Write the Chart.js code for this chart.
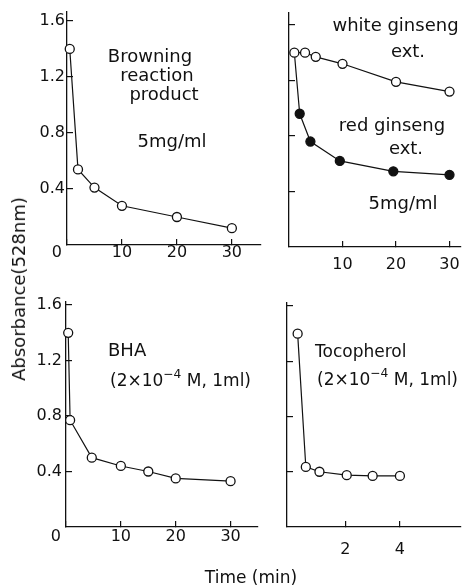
<!DOCTYPE html>
<html><head><meta charset="utf-8">
<script src="https://cdn.jsdelivr.net/npm/chart.js@4/dist/chart.umd.min.js"></script>
<style>
html,body{margin:0;padding:0;background:#fff;width:466px;height:587px;overflow:hidden;position:relative;}
canvas{position:absolute;}
.t{position:absolute;font-family:"DejaVu Sans";color:#111;white-space:nowrap;line-height:1;}
.t sup{font-size:0.72em;vertical-align:0.62em;line-height:0;}
</style></head><body>
<script>
// ---- data ----
const browningTime = [0.5, 2, 5, 10, 20, 30];
const browningAbs  = [1.40, 0.54, 0.41, 0.28, 0.20, 0.12];
const whiteTime = [1, 3, 5, 10, 20, 30];
const whiteAbs  = [1.40, 1.40, 1.37, 1.32, 1.19, 1.12];
const redTime = [1, 2, 4, 9.5, 19.5, 30];
const redAbs  = [1.40, 0.96, 0.76, 0.62, 0.545, 0.52];
const bhaTime = [0.4, 0.75, 4.7, 10, 15, 20, 30];
const bhaAbs  = [1.40, 0.77, 0.50, 0.44, 0.40, 0.35, 0.33];
const tocoTime = [0.25, 0.55, 1.05, 2.05, 3, 4];
const tocoAbs  = [1.40, 0.435, 0.40, 0.375, 0.37, 0.37];
const yTickValues = [0.4, 0.8, 1.2, 1.6];
const xTicksLong  = [0, 10, 20, 30];
const xTicksRight = [10, 20, 30];
const xTicksToco  = [2, 4];

const INK = '#111';
const pts = (xs, ys) => xs.map((x, i) => ({x, y: ys[i]}));
function series(xs, ys, filled, radii) {
  return {
    data: pts(xs, ys), borderColor: INK, borderWidth: 1.2, tension: 0, fill: false, clip: false,
    pointRadius: radii || 4.5, pointBorderWidth: 1.3, pointBorderColor: INK,
    pointBackgroundColor: filled ? INK : '#fff'
  };
}

function panel(cfg) {
  const c = document.createElement('canvas');
  c.width = cfg.w; c.height = cfg.h;
  Object.assign(c.style, {left: cfg.x + 'px', top: cfg.y + 'px', width: cfg.w + 'px', height: cfg.h + 'px'});
  document.body.appendChild(c);
  new Chart(c, {
    type: 'line',
    data: {datasets: cfg.datasets},
    options: {
      responsive: false, animation: false, devicePixelRatio: 1,
      layout: {padding: {top: cfg.padTop, right: cfg.padRight, left: 0, bottom: 0}},
      plugins: {legend: {display: false}, tooltip: {enabled: false}},
      scales: {
        x: {
          type: 'linear', min: cfg.xMin, max: cfg.xMax,
          afterBuildTicks: s => { s.ticks = cfg.xTicks.map(v => ({value: v})); },
          afterFit: s => { s.height = cfg.xH; s.paddingLeft = 0; s.paddingRight = 0; },
          grid: {drawOnChartArea: false, drawTicks: true, tickLength: -6, color: INK, lineWidth: 1.2},
          border: {display: true, color: INK, width: 1.3},
          ticks: {padding: cfg.xPad, color: INK, font: {family: 'DejaVu Sans', size: 16},
                  maxRotation: 0, autoSkip: false,
                  callback: v => v === 0 ? '0    ' : String(v)}
        },
        y: {
          type: 'linear', min: 0, max: cfg.yMax,
          afterBuildTicks: s => { s.ticks = yTickValues.map(v => ({value: v})); },
          afterFit: s => { s.width = cfg.yW; s.paddingTop = 0; s.paddingBottom = 0; },
          grid: {drawOnChartArea: false, drawTicks: true, tickLength: -6, color: INK, lineWidth: 1.2},
          border: {display: true, color: INK, width: 1.3},
          ticks: {display: cfg.yLabels, padding: cfg.yPad, color: INK, font: {family: 'DejaVu Sans', size: 16},
                  callback: v => v.toFixed(1)}
        }
      }
    }
  });
}

panel({x: 0, y: 0, w: 275, h: 280, padTop: 12, padRight: 14, yW: 67, xH: 35,
  xMin: 0, xMax: 35.3, yMax: 1.664, xTicks: xTicksLong, xPad: 4, yLabels: true, yPad: 8,
  datasets: [series(browningTime, browningAbs, false)]});

panel({x: 280, y: 0, w: 186, h: 282, padTop: 13, padRight: 0, yW: 9, xH: 35,
  xMin: 0, xMax: 32, yMax: 1.686, xTicks: xTicksRight, xPad: 14, yLabels: false, yPad: 0,
  datasets: [series(whiteTime, whiteAbs, false),
             series(redTime, redAbs, true, redTime.map((_, i) => i === 0 ? 0 : 4.5))]});

panel({x: 0, y: 285, w: 272, h: 302, padTop: 17, padRight: 14, yW: 66, xH: 60,
  xMin: 0, xMax: 35, yMax: 1.622, xTicks: xTicksLong, xPad: 6, yLabels: true, yPad: 10,
  datasets: [series(bhaTime, bhaAbs, false)]});

panel({x: 278, y: 285, w: 188, h: 302, padTop: 18, padRight: 0, yW: 9, xH: 60,
  xMin: -0.14, xMax: 6.21, yMax: 1.622, xTicks: xTicksToco, xPad: 19, yLabels: false, yPad: 0,
  datasets: [series(tocoTime, tocoAbs, false)]});

// ---- text annotations ----
function note(html, x, base, size, align) {
  const d = document.createElement('div');
  d.className = 't';
  d.innerHTML = html;
  d.style.fontSize = size + 'px';
  d.style.left = x + 'px';
  d.style.top = (base - 0.846 * size) + 'px';
  if (align === 'c') d.style.transform = 'translateX(-50%)';
  document.body.appendChild(d);
}
note('Browning', 150, 62, 18, 'c');
note('reaction', 157, 81, 18, 'c');
note('product', 164, 100, 18, 'c');
note('5mg/ml', 172, 147, 18, 'c');
note('white ginseng', 395.5, 31, 18, 'c');
note('ext.', 408, 57, 18, 'c');
note('red ginseng', 392, 131, 18, 'c');
note('ext.', 406, 154, 18, 'c');
note('5mg/ml', 403, 209, 18, 'c');
note('BHA', 108, 356, 18, 'l');
note('(2×10<sup>−4</sup> M, 1ml)', 110, 386, 17, 'l');
note('Tocopherol', 315, 357, 17, 'l');
note('(2×10<sup>−4</sup> M, 1ml)', 317, 385, 17, 'l');
note('Time (min)', 251, 583, 17, 'c');

const yl = document.createElement('div');
yl.className = 't';
yl.textContent = 'Absorbance(528nm)';
Object.assign(yl.style, {fontSize: '18px', left: '19px', top: '289px',
  transform: 'translate(-50%,-50%) rotate(-90deg)'});
document.body.appendChild(yl);
</script>
</body></html>
